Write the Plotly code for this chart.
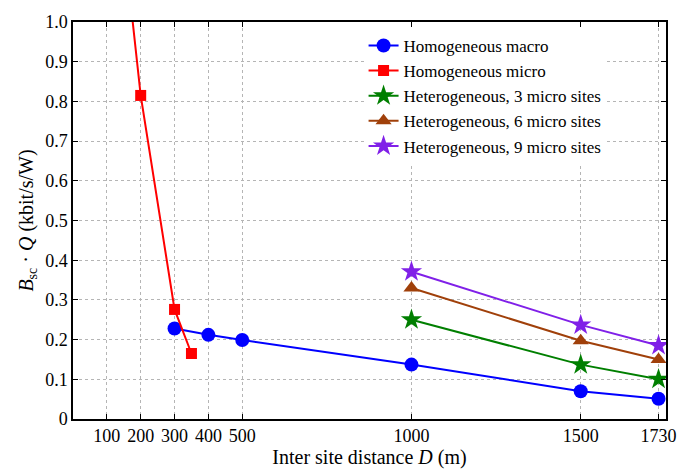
import plotly.graph_objects as go

# Data
macro_x = [300, 400, 500, 1000, 1500, 1730]
macro_y = [0.228, 0.212, 0.199, 0.137, 0.070, 0.051]
micro_x = [100, 200, 300, 350]
micro_y = [1.60, 0.815, 0.276, 0.165]
het_x = [1000, 1500, 1730]
het3_y = [0.250, 0.137, 0.100]
het6_y = [0.330, 0.197, 0.150]
het9_y = [0.371, 0.237, 0.185]

x_ticks = [100, 200, 300, 400, 500, 1000, 1500, 1730]
y_ticks = [0, 0.1, 0.2, 0.3, 0.4, 0.5, 0.6, 0.7, 0.8, 0.9, 1.0]
y_ticktext = ["0", "0.1", "0.2", "0.3", "0.4", "0.5", "0.6", "0.7", "0.8", "0.9", "1.0"]

FONT = "Liberation Serif, Times New Roman, serif"

series = [
    ("Homogeneous macro", macro_x, macro_y, "#0000FF", "circle", 14),
    ("Homogeneous micro", micro_x, micro_y, "#FF0000", "square", 11),
    ("Heterogeneous, 3 micro sites", het_x, het3_y, "#007F00", "star", 16),
    ("Heterogeneous, 6 micro sites", het_x, het6_y, "#A0400A", "triangle-up", 14),
    ("Heterogeneous, 9 micro sites", het_x, het9_y, "#8020E8", "star", 16),
]

fig = go.Figure()
for name, xs, ys, col, sym, sz in series:
    fig.add_trace(go.Scatter(
        x=xs, y=ys, name=name, mode="lines+markers",
        line=dict(color=col, width=2),
        marker=dict(color=col, symbol=sym, size=sz, line=dict(width=0)),
        cliponaxis=True,
    ))

axis_common = dict(
    showline=True, linecolor="black", linewidth=1.5, mirror="ticks",
    ticks="inside", ticklen=5, tickcolor="black",
    showgrid=True, gridcolor="#b5b5b5", griddash="dot", gridwidth=1,
    zeroline=False,
    tickfont=dict(family=FONT, size=18, color="black"),
)

fig.update_layout(
    width=688, height=476,
    margin=dict(l=73, r=14, t=16, b=50),
    paper_bgcolor="white", plot_bgcolor="white",
    font=dict(family=FONT, color="black"),
    xaxis=dict(range=[0, 1752], tickvals=x_ticks, tickangle=0,
               title=dict(text="Inter site distance <i>D</i> (m)", font=dict(family=FONT, size=20), standoff=4),
               **axis_common),
    yaxis=dict(range=[0, 1.0], tickvals=y_ticks, ticktext=y_ticktext,
               title=dict(text="<i>B</i><sub>sc</sub> · <i>Q</i> (kbit/s/W)", font=dict(family=FONT, size=20), standoff=6),
               **axis_common),
    legend=dict(x=0.49, y=0.985, xanchor="left", yanchor="top",
                bgcolor="white", borderwidth=0,
                font=dict(family=FONT, size=17, color="black"),
                tracegroupgap=0, itemwidth=30),
    showlegend=True,
)

fig.write_html("out.html")
